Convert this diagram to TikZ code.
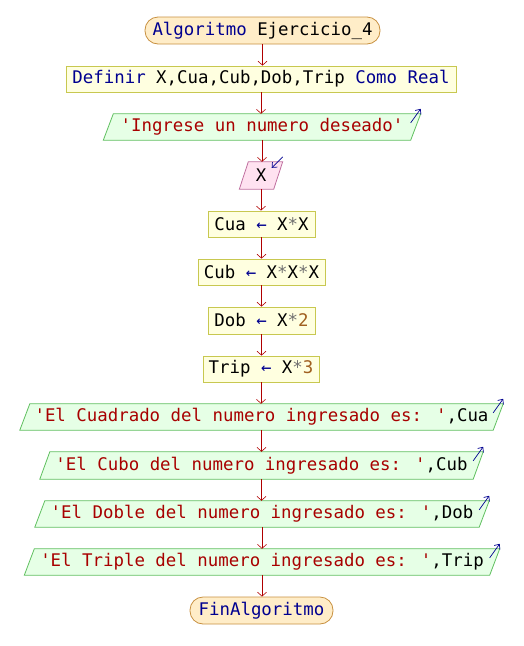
\documentclass[tikz,border=0pt]{standalone}
\usepackage{fontspec}
\newfontfamily\psemono{DejaVu Sans Mono}
\usetikzlibrary{arrows.meta,backgrounds}
\definecolor{kw}{HTML}{000090}
\definecolor{strc}{HTML}{A80000}
\definecolor{numc}{HTML}{A06020}
\definecolor{opc}{HTML}{707070}
\definecolor{termf}{HTML}{FFEDC8}
\definecolor{termd}{HTML}{C89040}
\definecolor{procf}{HTML}{FFFFE0}
\definecolor{procd}{HTML}{C8C850}
\definecolor{outf}{HTML}{E6FFE6}
\definecolor{outd}{HTML}{60C060}
\definecolor{inf}{HTML}{FFE2F0}
\definecolor{ind}{HTML}{C070A0}
\definecolor{flowc}{HTML}{B00000}
\newcommand{\kwd}[1]{\textcolor{kw}{#1}}
\newcommand{\strg}[1]{\textcolor{strc}{#1}}
\newcommand{\numb}[1]{\textcolor{numc}{#1}}
\newcommand{\opr}{\textcolor{opc}{*}}
\newcommand{\asg}{\textcolor{kw}{←}}
\begin{document}
\begin{tikzpicture}[x=1pt,y=-1pt,
  base/.style={font=\psemono\fontsize{17.4}{20}\selectfont, inner sep=0pt, minimum height=26pt, anchor=center},
  term/.style={base, draw=termd, fill=termf, rounded corners=13pt, line width=0.8pt},
  proc/.style={base, draw=procd, fill=procf, line width=0.8pt},
  io/.style={base},
  outshape/.style={draw=outd, fill=outf, line width=0.8pt},
  inshape/.style={draw=ind, fill=inf, line width=0.8pt},
  flow/.style={draw=flowc, line width=0.6pt, -{Straight Barb[length=4pt,width=9pt]}},
  cornerarrow/.style={draw=kw, line width=0.7pt, -{Straight Barb[length=4pt,width=7pt]}}]
\useasboundingbox (0,0) rectangle (524,646);

\node[term, minimum width=235pt, minimum height=27pt] (start) at (262.5,30.5) {\kwd{Algoritmo} Ejercicio\_4};
\node[proc, minimum width=390pt] (def) at (261,79) {\kwd{Definir} X,Cua,Cub,Dob,Trip \kwd{Como} \kwd{Real}};
\node[io, minimum width=307pt] (in1) at (262,127) {\strg{'Ingrese un numero deseado'}};
\node[io, minimum width=34pt, minimum height=27pt] (xin) at (261,175.5) {X};
\node[proc, minimum width=107pt] (cua) at (261.5,224) {Cua \asg{} X\opr X};
\node[proc, minimum width=127pt] (cub) at (261.5,272) {Cub \asg{} X\opr X\opr X};
\node[proc, minimum width=107pt, minimum height=27pt] (dob) at (261.5,320.5) {Dob \asg{} X\opr\numb{2}};
\node[proc, minimum width=116pt] (trip) at (261,369) {Trip \asg{} X\opr\numb{3}};
\node[io, minimum width=473pt] (o1) at (261.5,417) {\strg{'El Cuadrado del numero ingresado es: '},Cua};
\node[io, minimum width=433pt, minimum height=27pt] (o2) at (261.5,465.5) {\strg{'El Cubo del numero ingresado es: '},Cub};
\node[io, minimum width=444pt] (o3) at (262,514) {\strg{'El Doble del numero ingresado es: '},Dob};
\node[io, minimum width=465pt] (o4) at (262,562) {\strg{'El Triple del numero ingresado es: '},Trip};
\node[term, minimum width=143pt, minimum height=27pt] (fin) at (261.5,610.5) {\kwd{FinAlgoritmo}};

\begin{scope}[on background layer]
  \foreach \n in {in1,o1,o2,o3,o4}{
    \draw[outshape] ([xshift=-5pt]\n.south west) -- ([xshift=5pt]\n.north west)
      -- ([xshift=5pt]\n.north east) -- ([xshift=-5pt]\n.south east) -- cycle;
  }
  \draw[inshape] ([xshift=-4.5pt]xin.south west) -- ([xshift=4.5pt]xin.north west)
      -- ([xshift=4.5pt]xin.north east) -- ([xshift=-4.5pt]xin.south east) -- cycle;
\end{scope}

\foreach \n in {in1,o1,o2,o3,o4}{
  \draw[cornerarrow] ([shift={(-5pt,-9pt)}]\n.north east) -- ([shift={(5pt,5pt)}]\n.north east);
}
\draw[cornerarrow] ([shift={(4.5pt,5pt)}]xin.north east) -- ([shift={(-6.5pt,-6pt)}]xin.north east);

\draw[flow] (start.south) -- (start.south |- def.north);
\draw[flow] (def.south) -- (def.south |- in1.north);
\draw[flow] (in1.south) -- (in1.south |- xin.north);
\draw[flow] (xin.south) -- (xin.south |- cua.north);
\draw[flow] (cua.south) -- (cua.south |- cub.north);
\draw[flow] (cub.south) -- (cub.south |- dob.north);
\draw[flow] (dob.south) -- (dob.south |- trip.north);
\draw[flow] (trip.south) -- (trip.south |- o1.north);
\draw[flow] (o1.south) -- (o1.south |- o2.north);
\draw[flow] (o2.south) -- (o2.south |- o3.north);
\draw[flow] (o3.south) -- (o3.south |- o4.north);
\draw[flow] (o4.south) -- (o4.south |- fin.north);
\end{tikzpicture}
\end{document}
